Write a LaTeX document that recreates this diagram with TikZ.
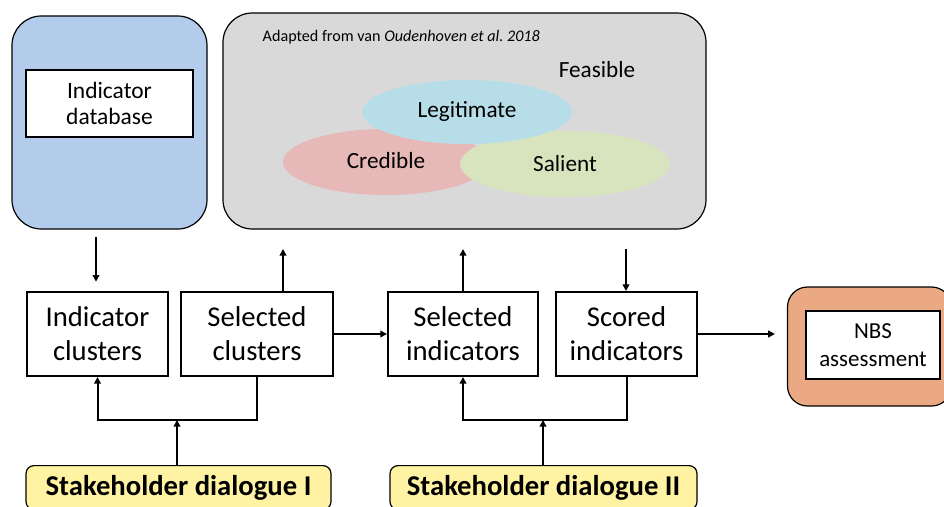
\documentclass[tikz,border=0pt]{standalone}
\usepackage{fontspec}
\setmainfont{Carlito}
\usetikzlibrary{arrows.meta, positioning, calc}
\definecolor{dbblue}{HTML}{B4CCEB}
\definecolor{panelgrey}{HTML}{D9D9D9}
\definecolor{nbsorange}{HTML}{EBA983}
\definecolor{dialogyellow}{HTML}{FFF3A3}
\definecolor{legitblue}{HTML}{B7DEE8}
\definecolor{crediblepink}{HTML}{E6B9B8}
\definecolor{salientgreen}{HTML}{D8E4BD}

\begin{document}
\begin{tikzpicture}[
      x=0.75pt, y=-0.75pt,
      panel/.style={draw, line width=0.9pt, rounded corners=22pt, inner sep=0pt},
      inbox/.style={draw, fill=white, line width=0.9pt, align=center, inner sep=0pt},
      stepbox/.style={draw, line width=1.5pt, minimum height=63pt, align=center,
        inner sep=0pt, font=\fontsize{21.5}{25.5}\selectfont},
      dialog/.style={draw, fill=dialogyellow, line width=0.9pt, rounded corners=6pt,
        anchor=north, minimum height=33pt, inner sep=0pt,
        font=\fontsize{21.5}{24}\selectfont\bfseries},
      ovl/.style={font=\fontsize{17.4}{21}\selectfont},
      arr/.style={-{Triangle[length=5pt,width=5pt]}, line width=1.5pt},
      >=Latex
    ]
      \useasboundingbox (0,0) rectangle (944,506);
      % top panels
      \node[panel, fill=dbblue, minimum width=146.25pt, minimum height=159.75pt]
        (dbpanel) at (109.5,122.5) {};
      \node[inbox, minimum width=125.25pt, minimum height=50.25pt,
        font=\fontsize{17.6}{20}\selectfont] (db) at (109.5,103.5) {Indicator\\database};
      \node[panel, fill=panelgrey, minimum width=362.25pt, minimum height=162pt]
        (litpanel) at (464.5,121) {};
      \node[anchor=base west, font=\fontsize{12.1}{14}\selectfont] (source)
        at (258,41.5) {Adapted from van \textit{Oudenhoven et al.\ 2018}};
      \fill[crediblepink] (386,162) ellipse [x radius=103, y radius=33];
      \fill[salientgreen] (565,164) ellipse [x radius=105, y radius=33];
      \fill[legitblue] (467,112) ellipse [x radius=105, y radius=32];
      \node[ovl] (feasible) at (597,70) {Feasible};
      \node[ovl] (legit) at (467,111) {Legitimate};
      \node[ovl] (credible) at (386,161) {Credible};
      \node[ovl] (salient) at (565,164) {Salient};
      % process row
      \node[stepbox, minimum width=105.75pt] (ic) at (97.5,334) {Indicator\\clusters};
      \node[stepbox, minimum width=114pt] (sc) at (257,334) {Selected\\clusters};
      \node[stepbox, minimum width=112.5pt] (si) at (463,334) {Selected\\indicators};
      \node[stepbox, minimum width=105.75pt] (scored) at (626.5,334) {Scored\\indicators};
      \node[panel, fill=nbsorange, rounded corners=15pt, minimum width=123pt,
        minimum height=89.25pt] (nbspanel) at (869.5,346.5) {};
      \node[inbox, minimum width=100.5pt, minimum height=51pt,
        font=\fontsize{17.2}{21}\selectfont] (nbs) at (873,345) {NBS\\assessment};
      % dialogues
      \node[dialog, minimum width=228.75pt] (sd1) at (178.5,465) {Stakeholder dialogue I};
      \node[dialog, minimum width=230.25pt] (sd2) at (543.5,465) {Stakeholder dialogue II};
      \coordinate (down1) at (96,237);
      \coordinate (up1) at (283,249);
      \coordinate (up2) at (463,249);
      \coordinate (down2) at (626,249);
      \coordinate (join1) at (177,420);
      \coordinate (join2) at (543,420);
      \draw[arr, shorten >=7pt] (down1) -- (down1 |- ic.north);
      \draw[arr] (up1 |- sc.north) -- (up1);
      \draw[arr] (si.north) -- (up2);
      \draw[arr] (down2) -- (down2 |- scored.north);
      \draw[arr] (sc.east) -- (si.west);
      \draw[arr, shorten >=9pt] (scored.east) -- (scored.east -| nbspanel.west);
      \draw[arr] (sc.south) |- (join1) -| (ic.south);
      \draw[arr] (sd1.north -| join1) -- (join1);
      \draw[arr] (scored.south) |- (join2) -| (si.south);
      \draw[arr] (sd2.north -| join2) -- (join2);
    \end{tikzpicture}
\end{document}
